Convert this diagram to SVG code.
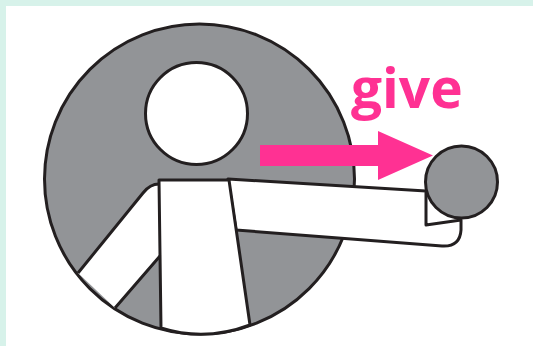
<svg xmlns="http://www.w3.org/2000/svg" width="533" height="346" viewBox="0 0 533 346">
<style>
.l{stroke:#231f20;stroke-width:3;stroke-linejoin:round;fill:none}
.g{fill:#929497}
.w{fill:#fff}
</style>
<rect width="533" height="346" fill="#d7f2ea"/>
<rect x="6" y="6" width="527" height="340" fill="#fff"/>
<g id="figure-disc"><circle class="l g" cx="199.5" cy="179" r="155"/></g>
<g id="arm-left"><path class="w" d="M78 273L146 190Q151 184 159 184L160 256L115 308Z"/><path class="l" d="M78 273L143 193Q150 184 159 184M115 308L160 256"/></g>
<g id="arm-right"><path class="l w" d="M228 179L426 191L426 225L461 220V230Q460 247 442 246L236 230Z"/></g>
<g id="body"><path class="l w" d="M159 180H228Q230 179 229 180L250 325Q205 342 161 328Z"/></g>
<g id="head"><circle class="l w" cx="196.5" cy="113.5" r="51"/></g>
<g id="give-arrow"><polygon fill="#ff3193" points="260,145 378,145 378,131 433,155.500 378,180 378,166 260,166"/></g>
<g id="object"><circle class="l g" cx="461.500" cy="182" r="36"/></g>
<text x="351" y="108" font-family="Open Sans, sans-serif" font-weight="700" font-size="55" fill="#ff3193">give</text>
</svg>
